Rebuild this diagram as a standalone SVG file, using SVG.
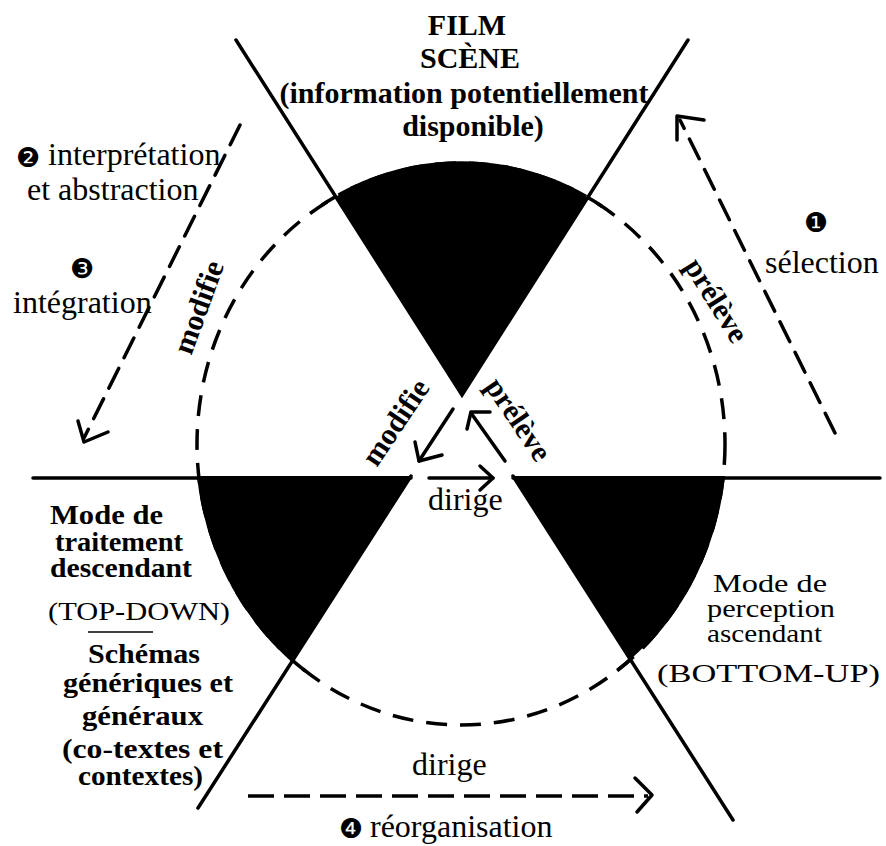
<svg xmlns="http://www.w3.org/2000/svg" width="886" height="846" viewBox="0 0 886 846">
<style>
.ln{stroke:#000;stroke-width:3.5;fill:none;stroke-linecap:round;stroke-linejoin:miter}
.edge{stroke:#000;stroke-width:3.5;fill:none}
.dsh{stroke:#000;stroke-width:3.5;fill:none;stroke-dasharray:21 13}
.dsa{stroke:#000;stroke-width:3.5;fill:none;stroke-dasharray:22 12;stroke-linecap:round}
.dsb{stroke:#000;stroke-width:3.5;fill:none;stroke-dasharray:26 10}
.arr{stroke:#000;stroke-width:3.5;fill:none;stroke-linecap:round;stroke-linejoin:round}
.wedge{fill:#000}
.b{font-family:"Liberation Serif","Times New Roman",serif;font-weight:bold;font-size:30px;fill:#000}
.bl{font-family:"Liberation Serif","Times New Roman",serif;font-weight:bold;font-size:27px;fill:#000}
.r{font-family:"Liberation Serif","Times New Roman",serif;font-size:32px;fill:#000}
.rr{font-family:"Liberation Serif","Times New Roman",serif;font-size:26px;fill:#000}
.n{font-family:"DejaVu Sans",sans-serif;font-size:27px;fill:#000}
</style>
<defs>
<clipPath id="cTop"><path d="M462,395 L236,40 L688,40 Z"/></clipPath>
<clipPath id="cLeft"><path d="M410,476 L198,808 L0,808 L0,476 Z"/></clipPath>
<clipPath id="cRight"><path d="M514,476 L886,476 L886,846 L749,846 Z"/></clipPath>
<clipPath id="cSolid">
<path d="M462,395 L236,40 L688,40 Z M410,476 L198,808 L0,808 L0,476 Z M514,476 L886,476 L886,846 L749,846 Z"/>
<circle cx="336" cy="197" r="17"/>
<circle cx="588" cy="197" r="17"/>
<circle cx="292" cy="661" r="17"/>
<circle cx="631" cy="661" r="17"/>
</clipPath>
</defs>
<rect width="886" height="846" fill="#fff"/>

<g id="frame">
<ellipse class="dsh" cx="461" cy="444" rx="264" ry="281"/>
<ellipse class="edge" cx="461" cy="444" rx="264" ry="281" clip-path="url(#cSolid)"/>
<path class="ln" d="M236,40 L462,395 L688,40"/>
<path class="ln" d="M411,476 L198,808"/>
<path class="ln" d="M513,476 L733,820"/>
<path class="ln" stroke-width="4" d="M33,478 H411 M513,478 H880"/>
</g>

<g id="node-film-scene">
<ellipse class="wedge" cx="461" cy="444" rx="264" ry="281" clip-path="url(#cTop)"/>
<text class="b" x="467" y="35" text-anchor="middle">FILM</text>
<text class="b" x="470" y="68" text-anchor="middle">SCÈNE</text>
<text class="b" x="464" y="103" text-anchor="middle">(information potentiellement</text>
<text class="b" x="473" y="136" text-anchor="middle">disponible)</text>
</g>

<g id="node-top-down">
<ellipse class="wedge" cx="461" cy="444" rx="264" ry="281" clip-path="url(#cLeft)"/>
<text class="bl" x="50" y="524" textLength="113" lengthAdjust="spacingAndGlyphs">Mode de</text>
<text class="bl" x="55" y="551" textLength="128" lengthAdjust="spacingAndGlyphs">traitement</text>
<text class="bl" x="50" y="577" textLength="142" lengthAdjust="spacingAndGlyphs">descendant</text>
<text class="rr" x="48" y="620" font-size="28" textLength="182" lengthAdjust="spacingAndGlyphs">(TOP-DOWN)</text>
<line x1="88" y1="632" x2="153" y2="632" stroke="#000" stroke-width="1.5"/>
<text class="bl" x="88" y="663" textLength="112" lengthAdjust="spacingAndGlyphs">Schémas</text>
<text class="bl" x="63" y="692" textLength="170" lengthAdjust="spacingAndGlyphs">génériques et</text>
<text class="bl" x="82" y="725" textLength="121" lengthAdjust="spacingAndGlyphs">généraux</text>
<text class="bl" x="62" y="758" textLength="161" lengthAdjust="spacingAndGlyphs">(co-textes et</text>
<text class="bl" x="78" y="785" textLength="125" lengthAdjust="spacingAndGlyphs">contextes)</text>
</g>

<g id="node-bottom-up">
<ellipse class="wedge" cx="461" cy="444" rx="264" ry="281" clip-path="url(#cRight)"/>
<text class="rr" x="713" y="592" textLength="114" lengthAdjust="spacingAndGlyphs">Mode de</text>
<text class="rr" x="707" y="617" textLength="128" lengthAdjust="spacingAndGlyphs">perception</text>
<text class="rr" x="707" y="642" textLength="115" lengthAdjust="spacingAndGlyphs">ascendant</text>
<text class="rr" x="657" y="682" font-size="30" textLength="223" lengthAdjust="spacingAndGlyphs">(BOTTOM-UP)</text>
</g>

<g id="connectors">
<path class="dsa" d="M240,125 L84,438"/>
<path class="arr" d="M78,421 L84,442 L108,432"/>
<path class="dsa" d="M835,433 L680,120"/>
<path class="arr" d="M704,120 L677,116 L677,140"/>
<path class="dsb" d="M248,796 H648"/>
<path class="arr" d="M635,778 L652,795 L637,812"/>
<path class="arr" d="M453,409 L419,461"/>
<path class="arr" d="M415,442 L419,461 L442,455"/>
<path class="arr" d="M505,461 L471,413"/>
<path class="arr" d="M490,412 L471,412 L467,429"/>
<path class="arr" d="M429,478 L493,478"/>
<path class="arr" d="M480,466 L493,478 L480,490"/>
</g>

<g id="labels">
<text class="n" x="28" y="157" text-anchor="middle" dominant-baseline="central">❷</text>
<text class="r" x="48" y="165">interprétation</text>
<text class="r" x="27" y="200">et abstraction</text>
<text class="n" x="82" y="268" text-anchor="middle" dominant-baseline="central">❸</text>
<text class="r" x="13" y="313">intégration</text>
<text class="n" x="816" y="222" text-anchor="middle" dominant-baseline="central">❶</text>
<text class="r" x="765" y="273">sélection</text>
<text class="n" x="351" y="828" text-anchor="middle" dominant-baseline="central">❹</text>
<text class="r" x="370" y="837">réorganisation</text>
<text class="r" x="412" y="775">dirige</text>
<text class="r" x="428" y="510">dirige</text>
<text class="b" transform="translate(198,307) rotate(-70)" text-anchor="middle" dominant-baseline="central">modifie</text>
<text class="b" transform="translate(717,300) rotate(58)" text-anchor="middle" dominant-baseline="central">prélève</text>
<text class="b" transform="translate(395,422) rotate(-56)" text-anchor="middle" dominant-baseline="central">modifie</text>
<text class="b" transform="translate(519,419) rotate(56)" text-anchor="middle" dominant-baseline="central">prélève</text>
</g>
</svg>
